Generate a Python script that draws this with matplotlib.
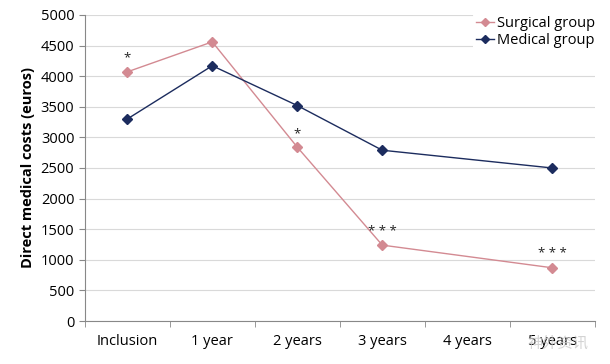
import matplotlib.pyplot as plt

categories = ["Inclusion", "1 year", "2 years", "3 years", "4 years", "5 years"]
pos_surg = [0, 1, 2, 3, 5]
surgical = [4070, 4560, 2840, 1240, 870]
pos_med = [0, 1, 2, 3, 5]
medical = [3300, 4170, 3520, 2790, 2500]
stars = {0: "*", 2: "*", 3: "* * *", 5: "* * *"}

plt.rcParams['font.family'] = ['Open Sans', 'Noto Sans CJK SC', 'DejaVu Sans']

fig = plt.figure(figsize=(6.1, 3.64), dpi=100)
ax = fig.add_axes([0.139, 0.118, 0.836, 0.841])

pink = "#d38a92"
navy = "#1c2c5e"
ax.plot(pos_surg, surgical, color=pink, lw=1.0, marker="D", ms=5, label="Surgical group", zorder=3)
ax.plot(pos_med, medical, color=navy, lw=1.0, marker="D", ms=5, label="Medical group", zorder=3)

for x, y in zip(pos_surg, surgical):
    if x in stars:
        ax.text(x, y + 120, stars[x], ha="center", va="bottom", fontsize=9.5, color="#222222")

ax.set_xlim(-0.5, 5.5)
ax.set_ylim(0, 5000)
ax.set_yticks(range(0, 5001, 500))
ax.set_xticks(range(len(categories)))
ax.set_xticklabels(categories)
ax.set_xticks([i - 0.5 for i in range(len(categories) + 1)], minor=True)
ax.tick_params(axis="x", which="major", length=0, pad=9, labelsize=10.5)
ax.tick_params(axis="x", which="minor", length=4, color="#888888", direction="out")
ax.tick_params(axis="y", length=4, color="#888888", labelsize=10.5, direction="out")
ax.grid(axis="y", color="#d9d9d9", lw=0.8)
ax.set_axisbelow(True)
for s in ["top", "right"]:
    ax.spines[s].set_visible(False)
for s in ["left", "bottom"]:
    ax.spines[s].set_color("#888888")
ax.set_ylabel("Direct medical costs (euros)", fontsize=10.5, fontweight="bold")

leg = ax.legend(loc="upper right", bbox_to_anchor=(1.02, 1.03), frameon=True, fontsize=10.5,
                handlelength=1.2, handletextpad=0.2, borderpad=0.2, labelspacing=0.15, markerscale=0.8)
leg.get_frame().set_edgecolor("none")
leg.get_frame().set_facecolor("white")
leg.get_frame().set_alpha(1)

fig.text(0.965, 0.035, "神外资讯", ha="right", va="bottom", fontsize=11, color="#c8c8c8", alpha=0.8)

fig.savefig("out.png", dpi=100)
